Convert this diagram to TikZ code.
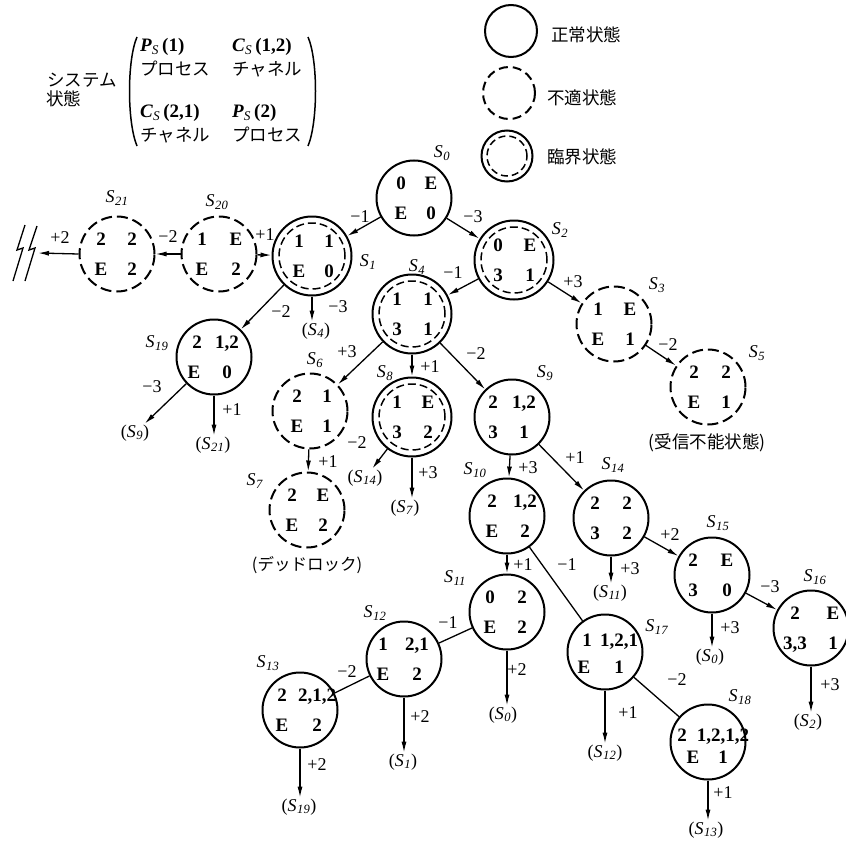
\documentclass[tikz,border=0pt]{standalone}
\usepackage{fontspec}
\setmainfont{Liberation Serif}
\newfontfamily\jp{Noto Sans CJK JP}
\usetikzlibrary{arrows.meta}
\newcommand\Sx[1]{\textit{S}\kern0.5pt\textsubscript{\textit{#1}}}
\newcommand\Mx[3]{\textbf{\textit{#1}}\textsubscript{\textit{#2}}\,\textbf{(#3)}}
% contents of a state: name, left-x top, left-x bottom, right-x, top-y, four entries
\newcommand\stc[9]{%
  \path (#1) ++(#2,#5) node[ct] (#1a) {#6}
        (#1) ++(#4,#5) node[ct] (#1b) {#7}
        (#1) ++(#3,15) node[ct] (#1c) {#8}
        (#1) ++(#4,15) node[ct] (#1d) {#9};}
\tikzset{
  base/.style={circle, minimum size=75pt, inner sep=0pt, line width=2pt},
  normalst/.style={base, draw},
  unsafest/.style={base, draw, dash pattern=on 11pt off 5pt},
  critst/.style={base, draw, minimum size=79pt,
    path picture={\draw[line width=1.5pt, dash pattern=on 8pt off 4pt]
      (path picture bounding box.center) circle (33pt);}},
  ct/.style={font=\fontsize{19}{21}\selectfont\bfseries, inner sep=0pt, text height=13pt, text depth=0pt, anchor=center},
  lab/.style={font=\fontsize{18}{20}\selectfont, inner sep=1pt},
  mtx/.style={font=\fontsize{19}{21}\selectfont, inner sep=1pt, anchor=west},
  jpt/.style={font=\fontsize{17.5}{20}\selectfont\jp, inner sep=1pt},
  jps/.style={font=\fontsize{16.5}{19}\selectfont\jp, inner sep=1pt},
  arr/.style={line width=1.3pt, -{Latex[length=11pt,width=5pt]}},
  ln/.style={line width=1.3pt},
}
\begin{document}
\begin{tikzpicture}[x=1pt,y=-1pt]
\useasboundingbox (0,0) rectangle (846,843);

% ---- legend: system state matrix ----
\node[jpt, anchor=west] (sys1) at (46,80) {システム};
\node[jpt, anchor=west] (sys2) at (45,99) {状態};
\draw[line width=1.5pt] (137,37) .. controls (127,60) and (127,122) .. (137,146);
\draw[line width=1.5pt] (308,37) .. controls (318,60) and (318,122) .. (308,146);
\node[mtx] (m1) at (139,47) {\Mx{P}{S}{1}};
\node[jpt, anchor=west] (m2) at (139,69) {プロセス};
\node[mtx] (m3) at (231,47) {\Mx{C}{S}{1,2}};
\node[jpt, anchor=west] (m4) at (231,69) {チャネル};
\node[mtx] (m5) at (139,113) {\Mx{C}{S}{2,1}};
\node[jpt, anchor=west] (m6) at (139,135) {チャネル};
\node[mtx] (m7) at (231,113) {\Mx{P}{S}{2}};
\node[jpt, anchor=west] (m8) at (231,135) {プロセス};

% ---- legend: state kinds ----
\node[normalst, minimum size=52pt] (lg1) at (511,31) {};
\node[jpt, anchor=west] (lgt1) at (550,35) {正常状態};
\node[unsafest, minimum size=52pt, dash pattern=on 9pt off 5pt] (lg2) at (509,93) {};
\node[jpt, anchor=west] (lgt2) at (546,98) {不適状態};
\node[base, draw, minimum size=51pt,
  path picture={\draw[line width=1.5pt, dash pattern=on 7pt off 4pt]
    (path picture bounding box.center) circle (20pt);}] (lg3) at (507,156) {};
\node[jpt, anchor=west] (lgt3) at (546,157) {臨界状態};

% ---- states ----
\node[normalst] (s0) at (414,198) {};
\node[critst]   (s1) at (312,256) {};
\node[critst]   (s2) at (514,260) {};
\node[unsafest] (s3) at (614,324) {};
\node[critst]   (s4) at (412,314) {};
\node[unsafest] (s5) at (708,387) {};
\node[unsafest] (s6) at (310,411) {};
\node[unsafest] (s7) at (307,510) {};
\node[critst]   (s8) at (412,417) {};
\node[normalst] (s9) at (512,417) {};
\node[normalst] (s10) at (507,516) {};
\node[normalst] (s11) at (507,612) {};
\node[normalst] (s12) at (404,659) {};
\node[normalst] (s13) at (300,710) {};
\node[normalst] (s14) at (611,518) {};
\node[normalst] (s15) at (712,575) {};
\node[normalst] (s16) at (811,628) {};
\node[normalst] (s17) at (605,652) {};
\node[normalst] (s18) at (708,742) {};
\node[normalst] (s19) at (214,357) {};
\node[unsafest] (s20) at (219,254) {};
\node[unsafest] (s21) at (117,254) {};

\stc{s0}{-13}{-13}{17}{-15}{0}{E}{E}{0}
\stc{s1}{-13}{-13}{17}{-15}{1}{1}{E}{0}
\stc{s2}{-16}{-16}{16}{-15}{0}{E}{3}{1}
\stc{s3}{-16}{-16}{16}{-15}{1}{E}{E}{1}
\stc{s4}{-15}{-15}{16}{-15}{1}{1}{3}{1}
\stc{s5}{-14}{-14}{18}{-15}{2}{2}{E}{1}
\stc{s6}{-13}{-13}{17}{-15}{2}{1}{E}{1}
\stc{s7}{-15}{-15}{16}{-15}{2}{E}{E}{2}
\stc{s8}{-15}{-15}{16}{-15}{1}{E}{3}{2}
\stc{s9}{-19}{-19}{12}{-15}{2}{1,2}{3}{1}
\stc{s10}{-15}{-15}{18}{-15}{2}{1,2}{E}{2}
\stc{s11}{-17}{-17}{15}{-15}{0}{2}{E}{2}
\stc{s12}{-21}{-21}{13}{-15}{1}{2,1}{E}{2}
\stc{s13}{-18}{-18}{17}{-15}{2}{2,1,2}{E}{2}
\stc{s14}{-16}{-16}{16}{-15}{2}{2}{3}{2}
\stc{s15}{-19}{-19}{15}{-15}{2}{E}{3}{0}
\stc{s16}{-16}{-16}{22}{-15}{2}{E}{3,3}{1}
\stc{s17}{-18}{-21}{14}{-12}{1}{1,2,1}{E}{1}
\stc{s18}{-26}{-15}{15}{-7}{2}{1,2,1,2}{E}{1}
\stc{s19}{-17}{-20}{13}{-15}{2}{1,2}{E}{0}
\stc{s20}{-17}{-17}{17}{-15}{1}{E}{E}{2}
\stc{s21}{-16}{-16}{15}{-15}{2}{2}{E}{2}

% ---- state names ----
\node[lab] (n0) at (442,153) {\Sx{0}};
\node[lab] (n1) at (368,262) {\Sx{1}};
\node[lab] (n2) at (560,230) {\Sx{2}};
\node[lab] (n3) at (657,285) {\Sx{3}};
\node[lab] (n4) at (417,267) {\Sx{4}};
\node[lab] (n5) at (757,353) {\Sx{5}};
\node[lab] (n6) at (315,360) {\Sx{6}};
\node[lab] (n7) at (255,481) {\Sx{7}};
\node[lab] (n8) at (385,373) {\Sx{8}};
\node[lab] (n9) at (545,373) {\Sx{9}};
\node[lab] (n10) at (475,470) {\Sx{10}};
\node[lab] (n11) at (455,578) {\Sx{11}};
\node[lab] (n12) at (375,613) {\Sx{12}};
\node[lab] (n13) at (268,663) {\Sx{13}};
\node[lab] (n14) at (613,465) {\Sx{14}};
\node[lab] (n15) at (718,523) {\Sx{15}};
\node[lab] (n16) at (815,577) {\Sx{16}};
\node[lab] (n17) at (657,627) {\Sx{17}};
\node[lab] (n18) at (740,697) {\Sx{18}};
\node[lab] (n19) at (157,343) {\Sx{19}};
\node[lab] (n20) at (217,202) {\Sx{20}};
\node[lab] (n21) at (117,198) {\Sx{21}};

% ---- captions ----
\node[jpt] (c5) at (707,443) {(受信不能状態)};
\node[jps] (c7) at (307,565) {(デッドロック)};

% ---- reference targets ----
\node[lab] (t4) at (316,331) {(\Sx{4})};
\node[lab] (t9) at (135,433) {(\Sx{9})};
\node[lab] (t21) at (213,445) {(\Sx{21})};
\node[lab] (t14) at (365,478) {(\Sx{14})};
\node[lab] (t7) at (405,508) {(\Sx{7})};
\node[lab] (t11) at (610,593) {(\Sx{11})};
\node[lab] (t0a) at (710,657) {(\Sx{0})};
\node[lab] (t0b) at (503,715) {(\Sx{0})};
\node[lab] (t1) at (403,762) {(\Sx{1})};
\node[lab] (t19) at (299,807) {(\Sx{19})};
\node[lab] (t2) at (808,722) {(\Sx{2})};
\node[lab] (t12) at (605,753) {(\Sx{12})};
\node[lab] (t13) at (706,830) {(\Sx{13})};

% ---- lightning (overflow) ----
\coordinate (bolt) at (38,253);
\draw[line width=1.3pt] (25,225) -- (17,250) -- (23,248) -- (13,281);
\draw[line width=1.3pt] (37,226) -- (29,250) -- (35,248) -- (25,281);

% ---- connectors ----
\draw[arr] (s0) -- (s1);
\draw[arr] (s0) -- (s2);
\draw[arr] (s1.south) -- (s1.south |- t4.north);
\draw[arr] (s1) -- (s19);
\draw[arr] (s20) -- (s1);
\draw[arr] (s20) -- (s21);
\draw[arr] (s21.west) -- (bolt);
\draw[arr] (s2) -- (s4);
\draw[arr] (s2) -- (s3);
\draw[arr] (s3) -- (s5);
\draw[arr] (s4) -- (s6);
\draw[arr] (s4) -- (s8);
\draw[arr] (s4) -- (s9);
\draw[arr] (s6) -- (s7);
\draw[arr] (s8) -- (t14);
\draw[arr] (s8.south) -- (s8.south |- t7.north);
\draw[arr] (s9) -- (s10);
\draw[arr] (s9) -- (s14);
\draw[arr] (s10) -- (s11);
\draw[ln]  (s10) -- (s17);
\draw[ln]  (s11) -- (s12);
\draw[arr] (s11.south) -- (s11.south |- t0b.north);
\draw[ln]  (s12) -- (s13);
\draw[arr] (s12.south) -- (s12.south |- t1.north);
\draw[arr] (s13.south) -- (s13.south |- t19.north);
\draw[arr] (s14.south) -- (s14.south |- t11.north);
\draw[arr] (s14) -- (s15);
\draw[arr] (s15.south) -- (s15.south |- t0a.north);
\draw[arr] (s15) -- (s16);
\draw[arr] (s16.south) -- (s16.south |- t2.north);
\draw[arr] (s17.south) -- (s17.south |- t12.north);
\draw[ln]  (s17) -- (s18);
\draw[arr] (s18.south) -- (s18.south |- t13.north);
\draw[arr] (s19) -- (t9);
\draw[arr] (s19.south) -- (s19.south |- t21.north);

% ---- connector labels ----
\node[lab] (e1) at (360,217) {−1};
\node[lab] (e2) at (473,217) {−3};
\node[lab] (e3) at (338,307) {−3};
\node[lab] (e4) at (281,312) {−2};
\node[lab] (e5) at (265,235) {+1};
\node[lab] (e6) at (168,237) {−2};
\node[lab] (e7) at (60,238) {+2};
\node[lab] (e8) at (453,273) {−1};
\node[lab] (e9) at (573,282) {+3};
\node[lab] (e10) at (668,345) {−2};
\node[lab] (e11) at (347,352) {+3};
\node[lab] (e12) at (430,367) {+1};
\node[lab] (e13) at (476,354) {−2};
\node[lab] (e14) at (328,462) {+1};
\node[lab] (e15) at (357,443) {−2};
\node[lab] (e16) at (428,473) {+3};
\node[lab] (e17) at (528,468) {+3};
\node[lab] (e18) at (575,458) {+1};
\node[lab] (e19) at (523,565) {+1};
\node[lab] (e20) at (567,565) {−1};
\node[lab] (e21) at (448,623) {−1};
\node[lab] (e22) at (517,670) {+2};
\node[lab] (e23) at (347,672) {−2};
\node[lab] (e24) at (420,717) {+2};
\node[lab] (e25) at (317,765) {+2};
\node[lab] (e26) at (630,569) {+3};
\node[lab] (e27) at (670,535) {+2};
\node[lab] (e28) at (730,628) {+3};
\node[lab] (e29) at (770,587) {−3};
\node[lab] (e30) at (830,685) {+3};
\node[lab] (e31) at (628,713) {+1};
\node[lab] (e32) at (677,680) {−2};
\node[lab] (e33) at (723,793) {+1};
\node[lab] (e34) at (152,387) {−3};
\node[lab] (e35) at (232,410) {+1};
\end{tikzpicture}
\end{document}
